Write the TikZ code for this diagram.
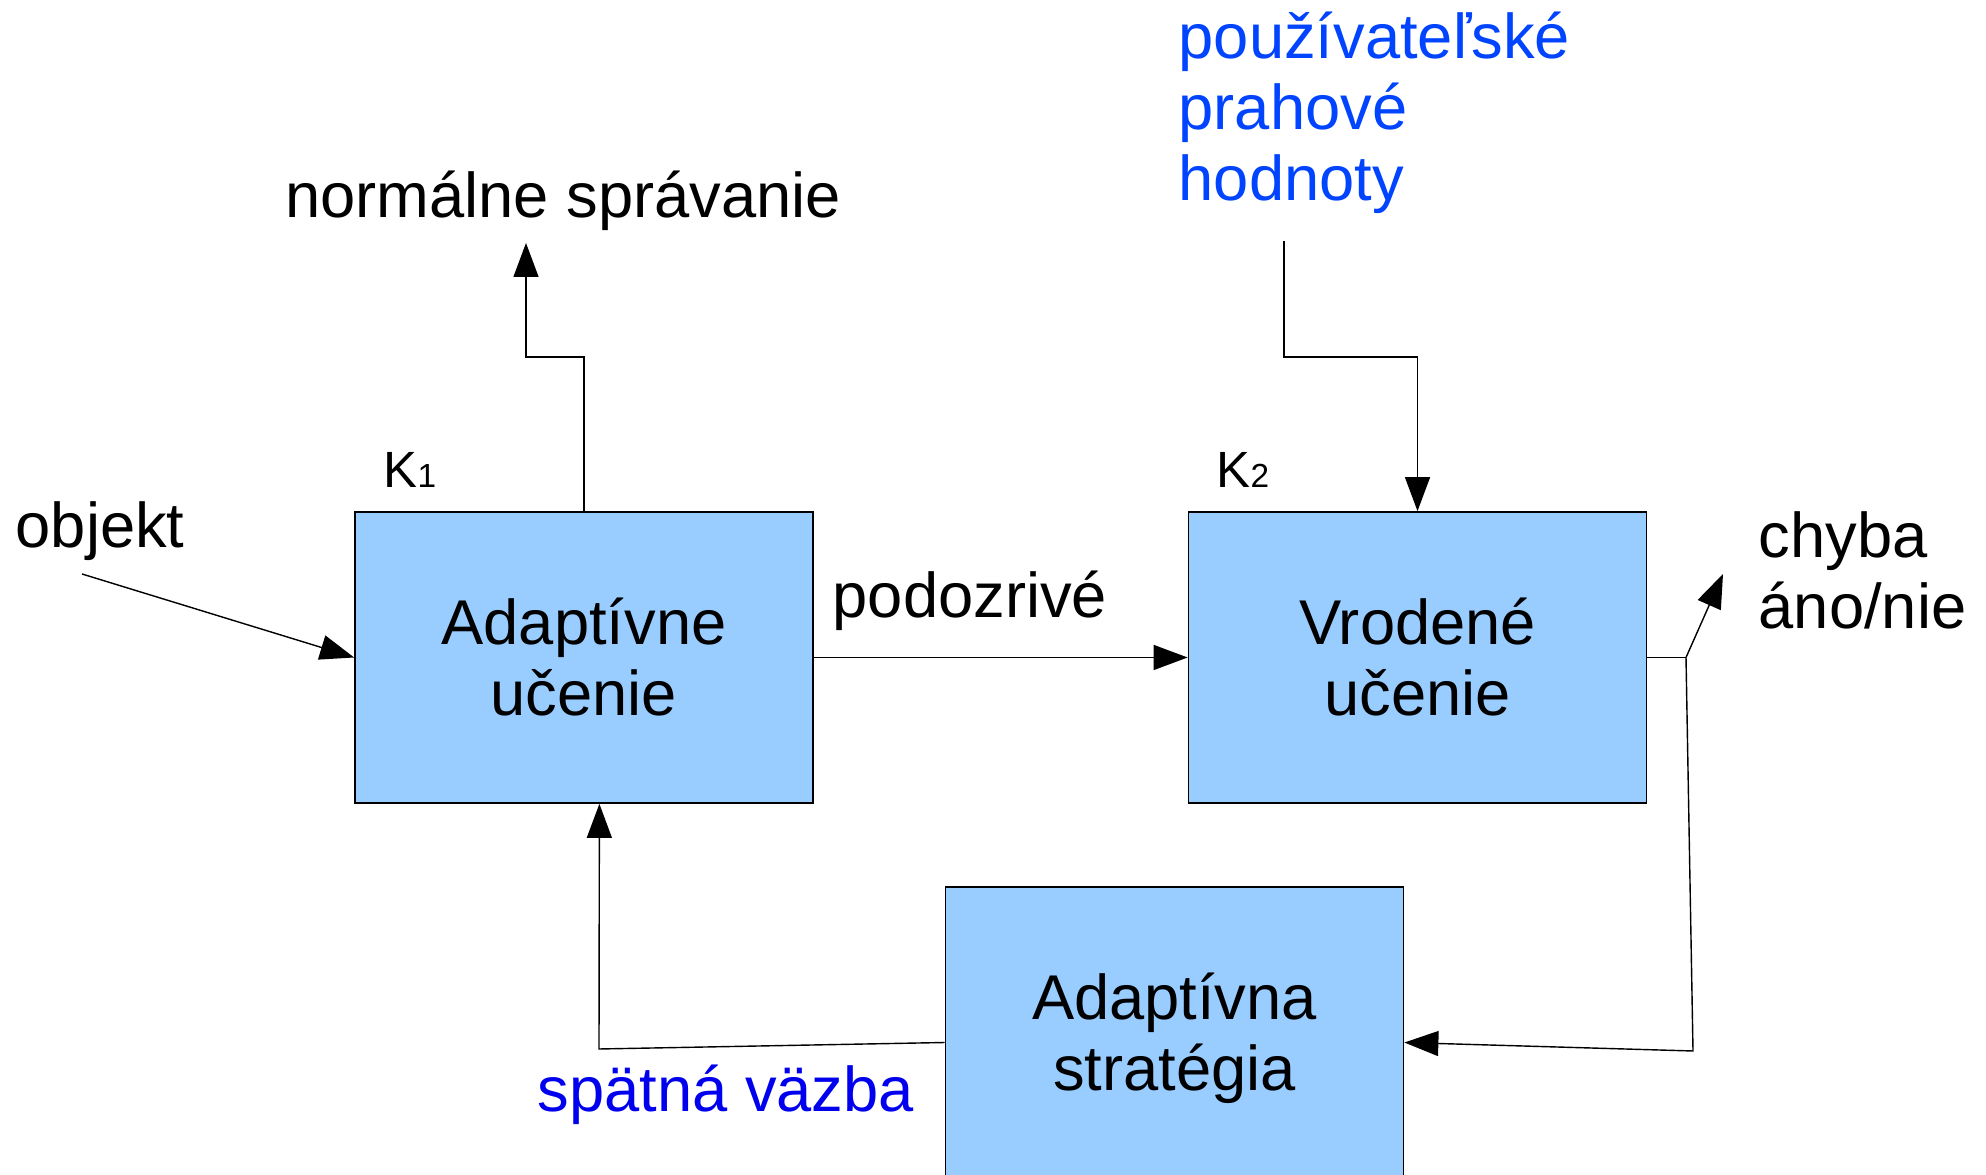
\documentclass[tikz,border=0pt]{standalone}
\usepackage{fontspec}
\setmainfont{Liberation Sans}
\usetikzlibrary{arrows.meta}

\definecolor{boxblue}{HTML}{99CCFF}
\definecolor{userblue}{RGB}{0,68,255}
\definecolor{feedblue}{RGB}{0,0,238}

\begin{document}
\begin{tikzpicture}[
    block/.style={rectangle, draw=black, line width=0.5pt, fill=boxblue, minimum width=4.58cm, minimum height=2.91cm, align=center, font=\fontsize{18pt}{20.2pt}\selectfont},
    txt/.style={font=\fontsize{18pt}{20.2pt}\selectfont, inner sep=0pt},
    ktxt/.style={font=\fontsize{14.5pt}{16pt}\selectfont, inner sep=0pt},
    wire/.style={line width=0.4pt},
    flow/.style={wire, -{Triangle[length=0.34cm, width=0.25cm]}},
]
\useasboundingbox (0,0) rectangle (19.86,11.75);

% Bloky
\node[block] (adapt) at (5.84,5.175) {Adaptívne\\učenie};
\node[block] (innate) at (14.175,5.175) {Vrodené\\učenie};
\node[block, minimum height=3.03cm] (strategy) at (11.745,1.365) {Adaptívna\\stratégia};

% Oznacenia blokov
\node[ktxt, anchor=base west] (k1) at (3.83,6.87) {K{\fontsize{9.5pt}{11pt}\selectfont 1}};
\node[ktxt, anchor=base west] (k2) at (12.16,6.87) {K{\fontsize{9.5pt}{11pt}\selectfont 2}};

% Texty
\node[txt, anchor=base west] (objekt) at (0.15,6.27) {objekt};
\node[txt, anchor=base] (normal) at (5.63,9.57) {normálne správanie};
\node[txt, anchor=base west] (suspect) at (8.32,5.57) {podozrivé};
\node[txt, anchor=north west, align=left, text=userblue] (thresh) at (11.78,11.64)
    {používateľské\\prahové\\hodnoty};
\node[txt, anchor=north west, align=left] (error) at (17.58,6.64) {chyba\\áno/nie};
\node[txt, anchor=base west, text=feedblue] (feedback) at (5.37,0.63) {spätná väzba};

% Body spojov
\coordinate (objin) at (0.82,6.01);
\coordinate (normout) at (5.26,9.32);
\coordinate (thrin) at (12.84,9.34);
\coordinate (fork) at (16.86,5.175);
\coordinate (errout) at (17.23,6.01);
\coordinate (fbturn) at (16.93,1.24);
\coordinate (fbcorner) at (5.99,1.26);

% Spoje
\draw[flow] (objin) -- (adapt.west);
\draw[flow] (adapt.north) -- ++(0,1.54) -| (normout);
\draw[flow] (thrin) -- ++(0,-1.16) -| (innate.north);
\draw[flow] (adapt.east) -- (innate.west);
\draw[wire] (innate.east) -- (fork);
\draw[flow] (fork) -- (errout);
\draw[flow] (fork) -- (fbturn) -- (strategy.-1.9);
\draw[flow] (strategy.181.9) -- (fbcorner) -- (adapt.-84.1);

\end{tikzpicture}
\end{document}
